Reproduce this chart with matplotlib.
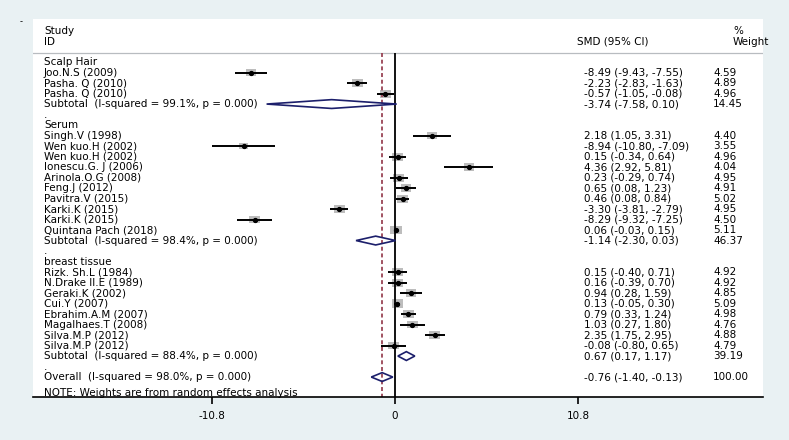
import matplotlib
matplotlib.use("Agg")
import matplotlib.pyplot as plt
from matplotlib.patches import Polygon, Rectangle
import numpy as np

# --- data ---
groups = ["Scalp Hair", "Serum", "breast tissue"]

study_names = [
    ["Joo.N.S (2009)", "Pasha. Q (2010)", "Pasha. Q (2010)"],
    ["Singh.V (1998)", "Wen kuo.H (2002)", "Wen kuo.H (2002)", "Ionescu.G. J (2006)",
     "Arinola.O.G (2008)", "Feng.J (2012)", "Pavitra.V (2015)", "Karki.K (2015)",
     "Karki.K (2015)", "Quintana Pach (2018)"],
    ["Rizk. Sh.L (1984)", "N.Drake II.E (1989)", "Geraki.K (2002)", "Cui.Y (2007)",
     "Ebrahim.A.M (2007)", "Magalhaes.T (2008)", "Silva.M.P (2012)", "Silva.M.P (2012)"],
]
smd = [
    [-8.49, -2.23, -0.57],
    [2.18, -8.94, 0.15, 4.36, 0.23, 0.65, 0.46, -3.30, -8.29, 0.06],
    [0.15, 0.16, 0.94, 0.13, 0.79, 1.03, 2.35, -0.08],
]
ci_low = [
    [-9.43, -2.83, -1.05],
    [1.05, -10.80, -0.34, 2.92, -0.29, 0.08, 0.08, -3.81, -9.32, -0.03],
    [-0.40, -0.39, 0.28, -0.05, 0.33, 0.27, 1.75, -0.80],
]
ci_high = [
    [-7.55, -1.63, -0.08],
    [3.31, -7.09, 0.64, 5.81, 0.74, 1.23, 0.84, -2.79, -7.25, 0.15],
    [0.71, 0.70, 1.59, 0.30, 1.24, 1.80, 2.95, 0.65],
]
weights = [
    [4.59, 4.89, 4.96],
    [4.40, 3.55, 4.96, 4.04, 4.95, 4.91, 5.02, 4.95, 4.50, 5.11],
    [4.92, 4.92, 4.85, 5.09, 4.98, 4.76, 4.88, 4.79],
]

sub_i2 = [99.1, 98.4, 88.4]
sub_p = [0.000, 0.000, 0.000]
sub_smd = [-3.74, -1.14, 0.67]
sub_low = [-7.58, -2.30, 0.17]
sub_high = [0.10, 0.03, 1.17]
sub_weight = [14.45, 46.37, 39.19]

overall_i2 = 98.0
overall_p = 0.000
overall_smd = -0.76
overall_low = -1.40
overall_high = -0.13
overall_weight = 100.00

tick_values = [-10.8, 0, 10.8]
tick_labels = ["-10.8", "0", "10.8"]

# --- figure ---
W, H = 789, 440
bg = "#e9f1f3"
fig = plt.figure(figsize=(W / 100, H / 100), dpi=100, facecolor=bg)
ax = fig.add_axes([33 / W, 1 - 397 / H, 730 / W, 378 / H])
ax.set_facecolor("white")

px_per_unit = 16.94
x0_px = 395
def xd(px):
    return (px - x0_px) / px_per_unit

ax.set_xlim(xd(33), xd(763))
ax.set_ylim(31.9, -4.1)

fs = 7.5
font = "DejaVu Sans"
navy = "#1c1f6b"
hdr_y = -0.86

x_lab = xd(44)
x_smd = xd(584)
x_wt = xd(713)

def row_text(y, label, est=None, lo=None, hi=None, w=None):
    ax.text(x_lab, y, label, fontsize=fs, family=font, va="center", ha="left", zorder=1)
    if est is not None:
        ax.text(x_smd, y, f"{est:.2f} ({lo:.2f}, {hi:.2f})", fontsize=fs, family=font,
                va="center", ha="left", zorder=1)
        ax.text(x_wt, y, f"{w:.2f}", fontsize=fs, family=font, va="center", ha="left", zorder=1)

def diamond(y, est, lo, hi):
    hh = 0.42
    ax.add_patch(Polygon([[lo, y], [est, y - hh], [hi, y], [est, y + hh]], closed=True,
                         facecolor="none", edgecolor=navy, lw=1.2, zorder=5))

row = 0
for g in range(len(groups)):
    row_text(row, groups[g])
    row += 1
    for name, s, lo, hi, w in zip(study_names[g], smd[g], ci_low[g], ci_high[g], weights[g]):
        row_text(row, name, s, lo, hi, w)
        bw = 4.9 * np.sqrt(w) / px_per_unit
        bh = 3.6 * np.sqrt(w) / 10.5
        ax.add_patch(Rectangle((s - bw / 2, row - bh / 2), bw, bh, facecolor="#bdbdbd",
                               edgecolor="none", zorder=2))
        ax.plot([lo, hi], [row, row], color="black", lw=1.4, zorder=3, solid_capstyle="butt")
        ax.plot([s], [row], marker="o", ms=2.8, color="black", zorder=4)
        row += 1
    row_text(row, f"Subtotal  (I-squared = {sub_i2[g]:.1f}%, p = {sub_p[g]:.3f})",
             sub_smd[g], sub_low[g], sub_high[g], sub_weight[g])
    diamond(row, sub_smd[g], sub_low[g], sub_high[g])
    row += 1
    row_text(row, ".")
    row += 1
row_text(row, f"Overall  (I-squared = {overall_i2:.1f}%, p = {overall_p:.3f})",
         overall_smd, overall_low, overall_high, overall_weight)
diamond(row, overall_smd, overall_low, overall_high)
ax.text(x_lab, row + 1.5, "NOTE: Weights are from random effects analysis", fontsize=fs,
        family=font, va="center", ha="left")

# header
ax.text(x_lab, -2.95, "Study", fontsize=fs, family=font, va="center")
ax.text(x_lab, -1.95, "ID", fontsize=fs, family=font, va="center")
ax.text(xd(577), -1.95, "SMD (95% CI)", fontsize=fs, family=font, va="center")
ax.text(xd(733), -2.95, "%", fontsize=fs, family=font, va="center")
ax.text(xd(733), -1.95, "Weight", fontsize=fs, family=font, va="center")
ax.axhline(hdr_y, color="#b8bcc0", lw=0.9)

# reference lines
ax.vlines(0, hdr_y, 31.9, color="black", lw=1.3, zorder=3)
ax.vlines(overall_smd, hdr_y, 31.9, color="#9a4455", lw=1.3, linestyles=(0, (2.2, 1.5)), zorder=2)

# axis
for sp in ["top", "left", "right"]:
    ax.spines[sp].set_visible(False)
ax.spines["bottom"].set_linewidth(1.2)
ax.set_yticks([])
ax.set_xticks(tick_values)
ax.set_xticklabels(tick_labels, fontsize=fs, family=font)
ax.tick_params(axis="x", direction="out", length=5, width=1.2, pad=5)

fig.text(20 / W, 1 - 22 / H, "-", fontsize=6, family=font, va="center")

fig.savefig("out.png", dpi=100, facecolor=bg)
